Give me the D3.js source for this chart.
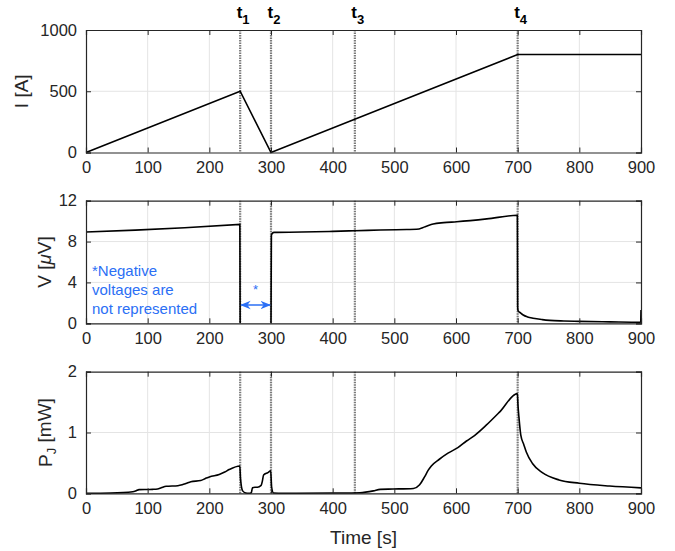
<!DOCTYPE html>
<html><head><meta charset="utf-8">
<script src="https://cdn.jsdelivr.net/npm/d3@7"></script>
<style>
body{margin:0;background:#fff;}
text{font-family:"Liberation Sans",Arial,Helvetica,sans-serif;}
</style></head>
<body><svg id="c" width="675" height="551"></svg>
<script>
// ---- data ----
const xTicks = [0,100,200,300,400,500,600,700,800,900];
const iTicks = [0,500,1000];
const vTicks = [0,4,8,12];
const pTicks = [0,1,2];
const eventTimes = [250,300,436,700];
const eventLabels = ["1","2","3","4"];

const iTime = [0,250,300,700,900];
const iValue = [0,500,0,800,800];

const vTime  = [0,80,160,249.5,250, 300,300.6,302,305,350,400,436,477,520,536,550,563,580,601,650,699.5,700,700.6,705,709,716,725,740,752,775,800,850,899.5,900];
const vValue = [8.93,9.12,9.35,9.68,0, 0,8.6,8.8,8.9,8.93,9.0,9.06,9.13,9.18,9.2,9.45,9.72,9.85,9.94,10.22,10.57,1.6,1.25,1.0,0.81,0.62,0.49,0.36,0.29,0.23,0.19,0.14,0.1,1.3];
const vGapAfter = 4; // index after which the (negative, not represented) voltage is omitted

const pTime  = [0,40,76,81,86,100,108,116,122,130,149,156,162,170,186,193,200,216,225,232,249.5,250.5,254,259,264,268,270,274,278,284,286,288,295,299.5,301,304,320,400,444,466,477,498,531,541,549,555,560,573,587,603,617,630,649,671,699.5,700.5,702,705,710,714,724,740,767,800,849,900];
const pValue = [0,0.005,0.026,0.04,0.06,0.063,0.065,0.07,0.09,0.115,0.125,0.14,0.16,0.19,0.21,0.24,0.27,0.31,0.35,0.39,0.45,0.25,0.04,0.005,0,0.01,0.09,0.1,0.1,0.13,0.2,0.30,0.34,0.37,0.1,0.005,0,0.005,0.01,0.04,0.065,0.07,0.08,0.14,0.27,0.38,0.45,0.56,0.66,0.75,0.86,0.95,1.12,1.34,1.64,1.45,1.26,0.96,0.8,0.68,0.49,0.34,0.22,0.165,0.12,0.09];

// ---- layout ----
const svg = d3.select("#c");
const X0 = 86, X1 = 641;
const x = d3.scaleLinear().domain([0,900]).range([X0,X1]);
const panels = [
  {top:30,   bot:152.5, dom:[0,1000], ticks:iTicks, t:iTime, v:iValue, lx:21},
  {top:200.7,bot:323.3, dom:[0,12],   ticks:vTicks, t:vTime, v:vValue, lx:44},
  {top:371.7,bot:493.3, dom:[0,2],    ticks:pTicks, t:pTime, v:pValue, lx:45}
];
const txtCol = "#262626";

panels.forEach((p,pi)=>{
  const y = d3.scaleLinear().domain(p.dom).range([p.bot,p.top]);
  const g = svg.append("g");
  // grid
  g.selectAll(".gx").data(xTicks.slice(1,-1)).join("line")
    .attr("x1",d=>x(d)).attr("x2",d=>x(d)).attr("y1",p.top).attr("y2",p.bot)
    .attr("stroke","#e4e4e4").attr("stroke-width",1);
  g.selectAll(".gy").data(p.ticks.slice(1,-1)).join("line")
    .attr("x1",X0).attr("x2",X1).attr("y1",d=>y(d)).attr("y2",d=>y(d))
    .attr("stroke","#e4e4e4").attr("stroke-width",1);
  // event lines
  g.selectAll(".ev").data(eventTimes).join("line")
    .attr("x1",d=>x(d)).attr("x2",d=>x(d)).attr("y1",p.top).attr("y2",p.bot)
    .attr("stroke","#7a7a7a").attr("stroke-width",2.2).attr("stroke-dasharray","1.5,1");
  // data line
  const pts = p.t.map((t,i)=>[t,p.v[i]]);
  const line = d3.line().x(d=>x(d[0])).y(d=>y(d[1]));
  if(pi===1){
    g.append("path").attr("d",line(pts.slice(0,vGapAfter+1)))
      .attr("fill","none").attr("stroke","#000").attr("stroke-width",1.6);
    g.append("path").attr("d",line.curve(d3.curveMonotoneX)(pts.slice(vGapAfter+1)))
      .attr("fill","none").attr("stroke","#000").attr("stroke-width",1.6);
  } else {
    g.append("path").attr("d",line.curve(pi===2?d3.curveMonotoneX:d3.curveLinear)(pts))
      .attr("fill","none").attr("stroke","#000").attr("stroke-width",1.6);
  }
  // axes (box, inward ticks)
  const ax = d3.axisBottom(x).tickValues(xTicks).tickSize(-5).tickPadding(9).tickFormat(d3.format("d"));
  const axB = g.append("g").attr("transform",`translate(0,${p.bot})`).call(ax);
  const axT = g.append("g").attr("transform",`translate(0,${p.top})`).call(d3.axisTop(x).tickValues(xTicks).tickSize(-5).tickFormat(""));
  const ay = d3.axisLeft(y).tickValues(p.ticks).tickSize(-5).tickPadding(9).tickFormat(d3.format("d"));
  const axL = g.append("g").attr("transform",`translate(${X0},0)`).call(ay);
  const axR = g.append("g").attr("transform",`translate(${X1},0)`).call(d3.axisRight(y).tickValues(p.ticks).tickSize(-5).tickFormat(""));
  [axB,axT,axL,axR].forEach(a=>{
    a.select(".domain").attr("stroke",txtCol).attr("stroke-width",1.2);
    a.selectAll(".tick line").attr("stroke",txtCol).attr("stroke-width",1);
    a.selectAll("text").attr("fill",txtCol).attr("font-size",16.5)
      .attr("font-family",'"Liberation Sans",Arial,sans-serif');
  });
  // y label
  const yl = svg.append("text").attr("transform",`translate(${p.lx},${(p.top+p.bot)/2}) rotate(-90)`)
    .attr("text-anchor","middle").attr("dy","0.35em").attr("fill",txtCol).attr("font-size",19);
  if(pi===0){ yl.text("I [A]"); }
  if(pi===1){ yl.append("tspan").text("V ["); yl.append("tspan").attr("font-style","italic").text("μ"); yl.append("tspan").text("V]"); }
  if(pi===2){ yl.append("tspan").text("P"); yl.append("tspan").attr("font-size",13).attr("dy","0.35em").text("J");
              yl.append("tspan").attr("dy","-0.27em").text(" [mW]"); }
});

// event labels
eventTimes.forEach((t,i)=>{
  const tx = svg.append("text").attr("x",x(t)-3.5).attr("y",18).attr("font-weight","bold")
    .attr("font-size",17).attr("fill","#000");
  tx.append("tspan").text("t");
  tx.append("tspan").attr("dy",6).attr("font-size",13).text(eventLabels[i]);
});

// x label
svg.append("text").attr("x",(X0+X1)/2).attr("y",544).attr("text-anchor","middle")
  .attr("fill",txtCol).attr("font-size",19).text("Time [s]");

// annotation
const blue = "#2b6ff5";
const ann = ["*Negative","voltages are","not represented"];
svg.append("g").selectAll("text").data(ann).join("text")
  .attr("x",92).attr("y",(d,i)=>276+i*19).attr("fill",blue).attr("font-size",15).text(d=>d);
const defs = svg.append("defs");
defs.append("marker").attr("id","ah").attr("viewBox","0 0 10 10").attr("refX",9).attr("refY",5)
  .attr("markerWidth",7).attr("markerHeight",7).attr("orient","auto-start-reverse")
  .append("path").attr("d","M0,1 L10,5 L0,9 L3,5 Z").attr("fill",blue);
svg.append("line").attr("x1",x(eventTimes[0])+1).attr("x2",x(eventTimes[1])-1).attr("y1",305).attr("y2",305)
  .attr("stroke",blue).attr("stroke-width",1.5).attr("marker-start","url(#ah)").attr("marker-end","url(#ah)");
svg.append("text").attr("x",x((eventTimes[0]+eventTimes[1])/2)).attr("y",294).attr("text-anchor","middle")
  .attr("fill",blue).attr("font-size",13).text("*");
</script></body></html>
